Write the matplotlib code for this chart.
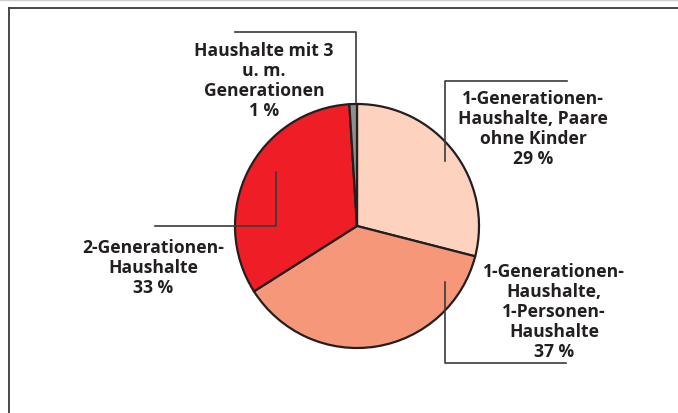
import matplotlib.pyplot as plt

# Anteile der Haushaltstypen
labels = ["1-Generationen-\nHaushalte, Paare\nohne Kinder",
          "1-Generationen-\nHaushalte,\n1-Personen-\nHaushalte",
          "2-Generationen-\nHaushalte",
          "Haushalte mit 3\nu. m.\nGenerationen"]
values = [29, 37, 33, 1]
colors = ["#fdd3bf", "#f6977a", "#ee1d26", "#8e8e8e"]

W, H = 678, 414
fig = plt.figure(figsize=(W / 100, H / 100), dpi=100)
ax = fig.add_axes([0, 0, 1, 1])
ax.set_xlim(0, W)
ax.set_ylim(0, H)
ax.axis("off")

def py(y):
    # Pixel von oben -> Datenkoordinate
    return H - y

# Rahmen
ax.plot([0, W], [py(0.8), py(0.8)], color="#cfcfcf", lw=1)
ax.plot([9, W], [py(9), py(9)], color="#3a3a3a", lw=1.3)
ax.plot([9, 9], [py(9), 0], color="#3a3a3a", lw=1.3)

ax.pie(values, colors=colors, startangle=90, counterclock=False,
       center=(357, py(227)), radius=122,
       wedgeprops=dict(edgecolor="#231f20", linewidth=1.6))
ax.set_xlim(0, W)
ax.set_ylim(0, H)
ax.set_aspect("equal")

# Hinweislinien
lc = "#3a3a3a"
leaders = [
    [(445, 162), (445, 82), (567, 82)],
    [(445, 283), (445, 364), (566, 364)],
    [(276, 173), (276, 227), (155, 227)],
    [(356, 103), (356, 33), (235, 33)],
]
for pts in leaders:
    ax.plot([p[0] for p in pts], [py(p[1]) for p in pts], color=lc, lw=1.2)

text_pos = [(533, 129), (554, 312), (153, 268), (264, 81)]
for lab, v, (x, y) in zip(labels, values, text_pos):
    ax.text(x, py(y), f"{lab}\n{v} %", ha="center", va="center",
            fontsize=12.6, fontweight="bold", family="Open Sans",
            color="#231f20", linespacing=1.13)

fig.savefig("out.png", dpi=100)
